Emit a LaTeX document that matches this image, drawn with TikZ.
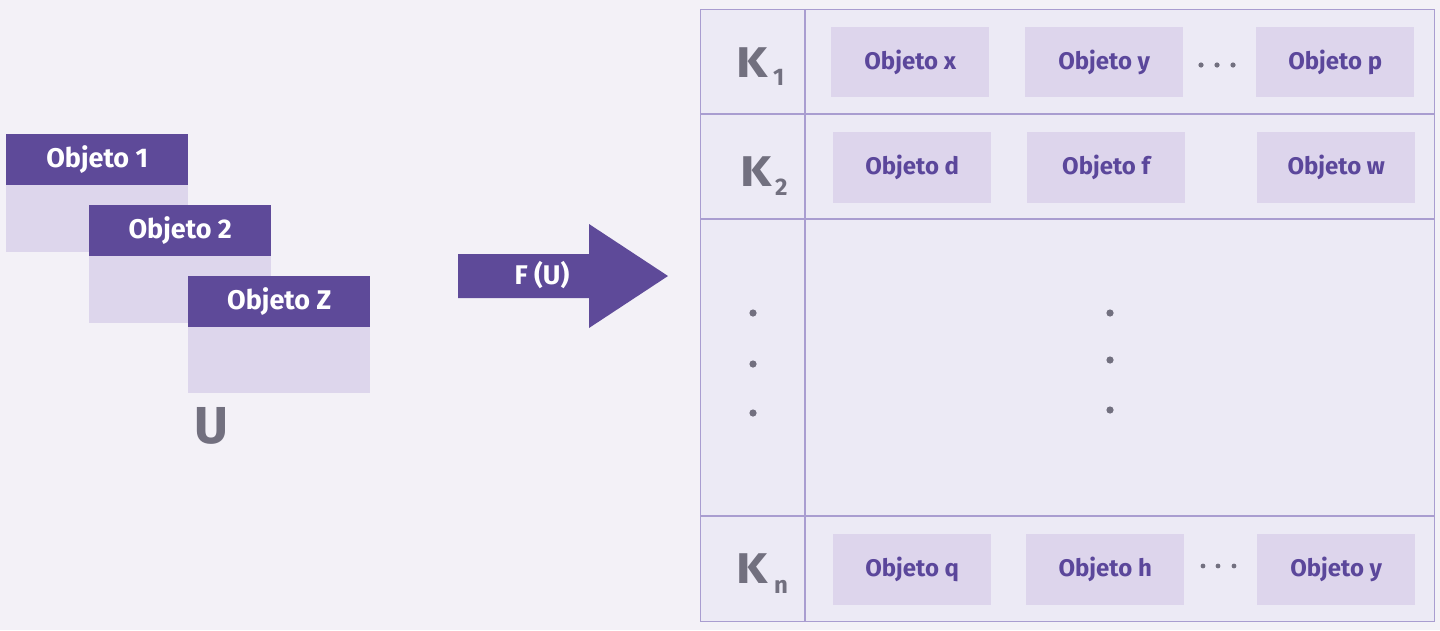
\documentclass[tikz,border=0pt]{standalone}
\usepackage{fontspec}
\setmainfont{Fira Sans}
\definecolor{bgc}{HTML}{F3F1F7}
\definecolor{hdrc}{HTML}{5E4A99}
\definecolor{bodyc}{HTML}{DDD6EC}
\definecolor{tabc}{HTML}{ECEAF5}
\definecolor{linec}{HTML}{A99DD0}
\definecolor{objc}{HTML}{DDD5EC}
\definecolor{objtc}{HTML}{5B479B}
\definecolor{grayc}{HTML}{72707F}
\begin{document}
\begin{tikzpicture}[x=1pt,y=-1pt,
  hdr/.style={fill=hdrc, text=white, font=\bfseries\fontsize{27}{27}\selectfont, inner sep=0pt, minimum width=182pt, minimum height=51pt, anchor=north west},
  bodybox/.style={fill=bodyc, inner sep=0pt, minimum width=182pt, minimum height=67pt, anchor=north west},
  objbox/.style={fill=objc, text=objtc, font=\bfseries\fontsize{24}{24}\selectfont, inner sep=0pt, minimum width=158pt, minimum height=71pt, anchor=north west},
  klab/.style={text=grayc, font=\bfseries\fontsize{43}{43}\selectfont, inner sep=0pt, anchor=base west},
  ksub/.style={text=grayc, font=\bfseries\fontsize{24}{24}\selectfont, inner sep=0pt, anchor=base west},
  grid/.style={draw=linec, line width=1.2pt},
  vdot/.style={fill=grayc}]
\useasboundingbox (0,0) rectangle (1440,630);
\fill[bgc] (0,0) rectangle (1440,630);
% left stacked objects
\node[bodybox] (b1) at (6,185) {};
\node[hdr] (h1) at (6,134) {Objeto 1};
\node[bodybox] (b2) at (89,256) {};
\node[hdr] (h2) at (89,205) {Objeto 2};
\node[bodybox] (b3) at (188,326) {};
\node[hdr] (h3) at (188,276) {Objeto Z};
\node[text=grayc, font=\bfseries\fontsize{52}{52}\selectfont, inner sep=0pt, anchor=base] (u) at (211,443) {U};
% arrow
\fill[hdrc] (458,254) -- (589,254) -- (589,224) -- (668,276) -- (589,328) -- (589,298) -- (458,298) -- cycle;
\node[text=white, font=\bfseries\fontsize{27}{27}\selectfont, inner sep=0pt, anchor=base] (fu) at (542,284) {F (U)};
% table
\node[grid, fill=tabc, inner sep=0pt, minimum width=734pt, minimum height=612pt, anchor=north west] (tab) at (700,9) {};
\draw[grid] (805,9) -- (805,621);
\draw[grid] (700,114) -- (1434,114);
\draw[grid] (700,219) -- (1434,219);
\draw[grid] (700,516) -- (1434,516);
% row 1
\node[klab] (k1) at (736,77) {\scalebox{1.15}[1]{K}};
\node[ksub] (k1s) at (773,85) {1};
\node[objbox, minimum height=70pt] (ox) at (831,27) {Objeto x};
\node[objbox, minimum height=70pt] (oy) at (1025,27) {Objeto y};
\node[objbox, minimum height=70pt] (op) at (1256,27) {Objeto p};
\fill[vdot] (1201,65) circle (2.6pt) (1217,65) circle (2.6pt) (1233,65) circle (2.6pt);
% row 2
\node[klab] (k2) at (740,186) {\scalebox{1.15}[1]{K}};
\node[ksub] (k2s) at (775,195) {2};
\node[objbox] (od) at (833,132) {Objeto d};
\node[objbox] (of) at (1027,132) {Objeto f};
\node[objbox] (ow) at (1257,132) {Objeto w};
% middle dots
\fill[vdot] (753,313) circle (3.6pt) (753,364) circle (3.6pt) (753,413) circle (3.6pt);
\fill[vdot] (1110,313) circle (3.6pt) (1110,360) circle (3.6pt) (1110,410) circle (3.6pt);
% row n
\node[klab] (kn) at (736,583) {\scalebox{1.15}[1]{K}};
\node[ksub] (kns) at (774,593) {n};
\node[objbox] (oq) at (833,534) {Objeto q};
\node[objbox] (oh) at (1026,534) {Objeto h};
\node[objbox] (oy2) at (1257,534) {Objeto y};
\fill[vdot] (1203,566) circle (2.4pt) (1218,566) circle (2.4pt) (1234,566) circle (2.4pt);
\end{tikzpicture}
\end{document}
